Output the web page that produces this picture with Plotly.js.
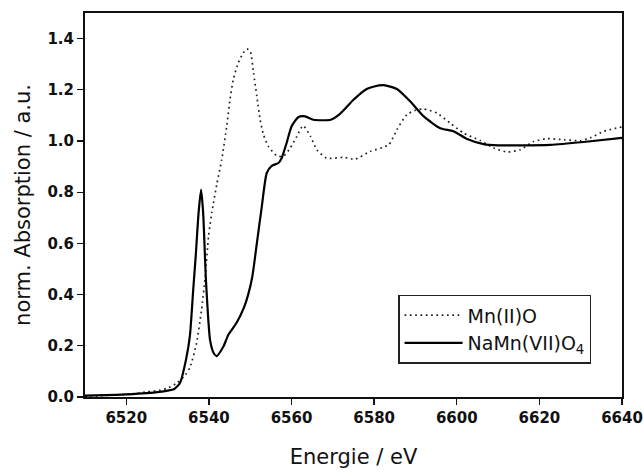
<!DOCTYPE html>
<html>
<head>
<meta charset="utf-8">
<script src="https://cdn.plot.ly/plotly-3.0.1.min.js"></script>
<style>html,body{margin:0;padding:0;background:#fff;}#chart{width:643px;height:472px;}</style>
</head>
<body>
<div id="chart"></div>
<script>
// Mn(II)O reference (dotted)
const energyMnO = [6510, 6515, 6520, 6522.5, 6525, 6528.2, 6530, 6532.2, 6534, 6535.4, 6537, 6538.2, 6539.1, 6539.9, 6540.7, 6541.9, 6543.1, 6544.3, 6545.1, 6545.9, 6547.1, 6548.3, 6549.2, 6550, 6550.8, 6551.6, 6552.4, 6553.2, 6554.4, 6556.4, 6558, 6559.7, 6561.3, 6562.8, 6564.6, 6566.1, 6568.5, 6572.6, 6575.4, 6579, 6583.5, 6585.5, 6587.9, 6590, 6592, 6595.2, 6598.4, 6601.6, 6605.7, 6608.9, 6612.2, 6615.4, 6618.6, 6621.8, 6625.9, 6629.9, 6632.3, 6635.6, 6640];
const absMnO = [0.003, 0.006, 0.01, 0.014, 0.02, 0.027, 0.035, 0.054, 0.08, 0.115, 0.21, 0.34, 0.47, 0.627, 0.72, 0.83, 0.927, 1.057, 1.161, 1.24, 1.305, 1.344, 1.36, 1.35, 1.266, 1.175, 1.083, 1.025, 0.979, 0.943, 0.94, 0.973, 1.018, 1.06, 1.018, 0.966, 0.933, 0.936, 0.929, 0.959, 0.985, 1.044, 1.103, 1.12, 1.125, 1.109, 1.07, 1.031, 1.002, 0.973, 0.957, 0.966, 0.998, 1.009, 1.005, 1.001, 1.012, 1.038, 1.055];

// NaMn(VII)O4 (solid)
const energyNaMnO4 = [6510, 6515, 6520, 6525, 6528, 6530, 6531.5, 6533, 6534.5, 6535.4, 6536.2, 6536.8, 6537.5, 6538.1, 6538.6, 6539.3, 6540.3, 6541.2, 6541.9, 6543.5, 6544.7, 6546.7, 6548.5, 6549.5, 6550.5, 6551.6, 6552.8, 6554, 6555.2, 6556.8, 6557.6, 6558.8, 6560, 6561.7, 6563.3, 6565.3, 6569.5, 6571.8, 6575, 6578.2, 6580, 6582.3, 6585.5, 6588.7, 6592, 6596, 6599.2, 6602.5, 6606.5, 6610, 6614.6, 6622.6, 6630.7, 6640];
const absNaMnO4 = [0.005, 0.007, 0.01, 0.015, 0.02, 0.025, 0.03, 0.055, 0.15, 0.24, 0.42, 0.55, 0.72, 0.81, 0.72, 0.45, 0.22, 0.17, 0.16, 0.197, 0.243, 0.29, 0.35, 0.40, 0.47, 0.60, 0.744, 0.875, 0.903, 0.914, 0.933, 0.992, 1.057, 1.094, 1.096, 1.083, 1.083, 1.107, 1.161, 1.203, 1.213, 1.218, 1.203, 1.155, 1.096, 1.05, 1.038, 1.008, 0.988, 0.983, 0.983, 0.985, 0.996, 1.012];

const seriesNames = ['Mn(II)O', 'NaMn(VII)O<sub>4</sub>'];
const xTicks = [6520, 6540, 6560, 6580, 6600, 6620, 6640];
const yTicks = [0.0, 0.2, 0.4, 0.6, 0.8, 1.0, 1.2, 1.4];

const FONT = 'DejaVu Sans, Liberation Sans, Arial, sans-serif';

const traces = [
  {x: energyMnO, y: absMnO, name: seriesNames[0], type: 'scatter', mode: 'lines',
   line: {color: '#222', width: 1.7, dash: '1.7px,3.6px', shape: 'spline', smoothing: 0.6}},
  {x: energyNaMnO4, y: absNaMnO4, name: seriesNames[1], type: 'scatter', mode: 'lines',
   line: {color: '#000', width: 2.2, shape: 'spline', smoothing: 0.6}}
];

const axisCommon = {
  showline: true, linecolor: '#111', linewidth: 2, mirror: true,
  ticks: 'outside', ticklen: 6, tickwidth: 1.3, tickcolor: '#111',
  showgrid: false, zeroline: false,
  tickfont: {family: FONT, size: 15, color: '#111', weight: 'bold'}
};

const layout = {
  width: 643, height: 472,
  margin: {l: 85, r: 21, t: 13, b: 75},
  paper_bgcolor: '#fff', plot_bgcolor: '#fff',
  font: {family: FONT, color: '#111'},
  showlegend: true,
  legend: {x: 0.583, y: 0.266, xanchor: 'left', yanchor: 'top',
    bgcolor: '#fff', bordercolor: '#222', borderwidth: 1.5,
    font: {family: FONT, size: 19, color: '#111'}, itemwidth: 58, entrywidth: 200},
  xaxis: Object.assign({}, axisCommon, {
    range: [6510, 6640], tickmode: 'array', tickvals: xTicks,
    ticktext: xTicks.map(String),
    title: {text: 'Energie / eV', font: {family: FONT, size: 21, color: '#111'}, standoff: 23}
  }),
  yaxis: Object.assign({}, axisCommon, {
    range: [0, 1.5], tickmode: 'array', tickvals: yTicks,
    ticktext: yTicks.map(v => v.toFixed(1)),
    title: {text: 'norm. Absorption / a.u.', font: {family: FONT, size: 21, color: '#111'}, standoff: 11}
  })
};

Plotly.newPlot('chart', traces, layout, {staticPlot: true, displayModeBar: false});
</script>
</body>
</html>
